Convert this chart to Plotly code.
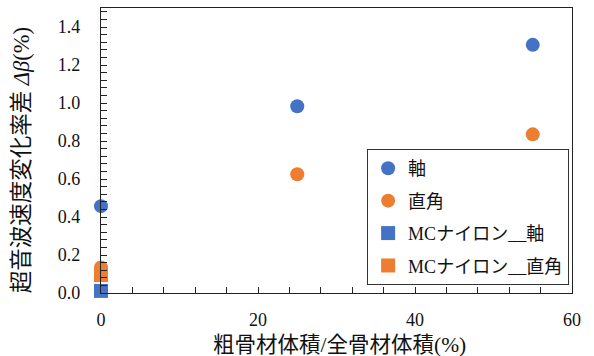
import plotly.graph_objects as go

# Volume ratio of coarse aggregate (%) and differential change in ultrasonic velocity (%)
x_axial = [0, 25, 55]
y_axial = [0.457, 0.983, 1.306]

x_right = [0, 25, 55]
y_right = [0.134, 0.625, 0.835]

x_mc_axial = [0]
y_mc_axial = [0.011]

x_mc_right = [0]
y_mc_right = [0.094]

names = ["軸", "直角", "MCナイロン__軸", "MCナイロン__直角"]
x_title = "粗骨材体積/全骨材体積(%)"
y_title = "超音波速度変化率差 <i>Δβ</i>(%)"

BLUE = "#4472C4"
ORANGE = "#ED7D31"
FONT = "'Liberation Serif', 'Times New Roman', 'Noto Sans CJK JP', serif"

fig = go.Figure()
fig.add_trace(go.Scatter(x=x_axial, y=y_axial, mode="markers", name=names[0],
                         legendgroup="a",
                         marker=dict(symbol="circle", size=14, color=BLUE),
                         cliponaxis=False))
fig.add_trace(go.Scatter(x=x_right, y=y_right, mode="markers", name=names[1],
                         legendgroup="b",
                         marker=dict(symbol="circle", size=14, color=ORANGE),
                         cliponaxis=False))
fig.add_trace(go.Scatter(x=x_mc_axial, y=y_mc_axial, mode="markers", name=names[2],
                         legendgroup="c",
                         marker=dict(symbol="square", size=14, color=BLUE),
                         cliponaxis=False))
fig.add_trace(go.Scatter(x=x_mc_right, y=y_mc_right, mode="markers", name=names[3],
                         legendgroup="d",
                         marker=dict(symbol="square", size=14, color=ORANGE),
                         cliponaxis=False))

axis_common = dict(
    showline=True, linecolor="#222", linewidth=1.3, mirror=True,
    ticks="inside", ticklen=6, tickcolor="#222", tickwidth=1.3,
    showgrid=False, zeroline=False, automargin=False,
    tickfont=dict(family=FONT, size=18, color="#111"),
)

fig.update_layout(
    width=594, height=356,
    margin=dict(l=101, r=22, t=8, b=63),
    paper_bgcolor="white", plot_bgcolor="white",
    font=dict(family=FONT, size=16, color="#111"),
    xaxis=dict(range=[0, 60], dtick=20, tick0=0,
               minor=dict(ticks="inside", dtick=4, ticklen=6, tickcolor="#222", tickwidth=1.3),
               ticklabelstandoff=10,
               **axis_common),
    yaxis=dict(range=[0, 1.5], dtick=0.2, tick0=0, tickformat=".1f",
               minor=dict(ticks="inside", dtick=0.04, ticklen=6, tickcolor="#222", tickwidth=1.3),
               ticklabelstandoff=16,
               **axis_common),
    legend=dict(x=0.565, y=0.505, xanchor="left", yanchor="top",
                bordercolor="#333", borderwidth=1, bgcolor="white",
                font=dict(family=FONT, size=18), tracegroupgap=6,
                itemwidth=30),
)

# axis titles placed as annotations
fig.add_annotation(text=x_title, xref="paper", yref="paper",
                   x=0.507, y=-0.182, xanchor="center", yanchor="middle",
                   showarrow=False,
                   font=dict(family=FONT, size=21.5, color="#111"))
fig.add_annotation(text=y_title, xref="paper", yref="paper",
                   x=-0.168, y=0.465, xanchor="center", yanchor="middle",
                   textangle=-90, showarrow=False,
                   font=dict(family=FONT, size=22.5, color="#111"))

fig.write_html("out.html")
